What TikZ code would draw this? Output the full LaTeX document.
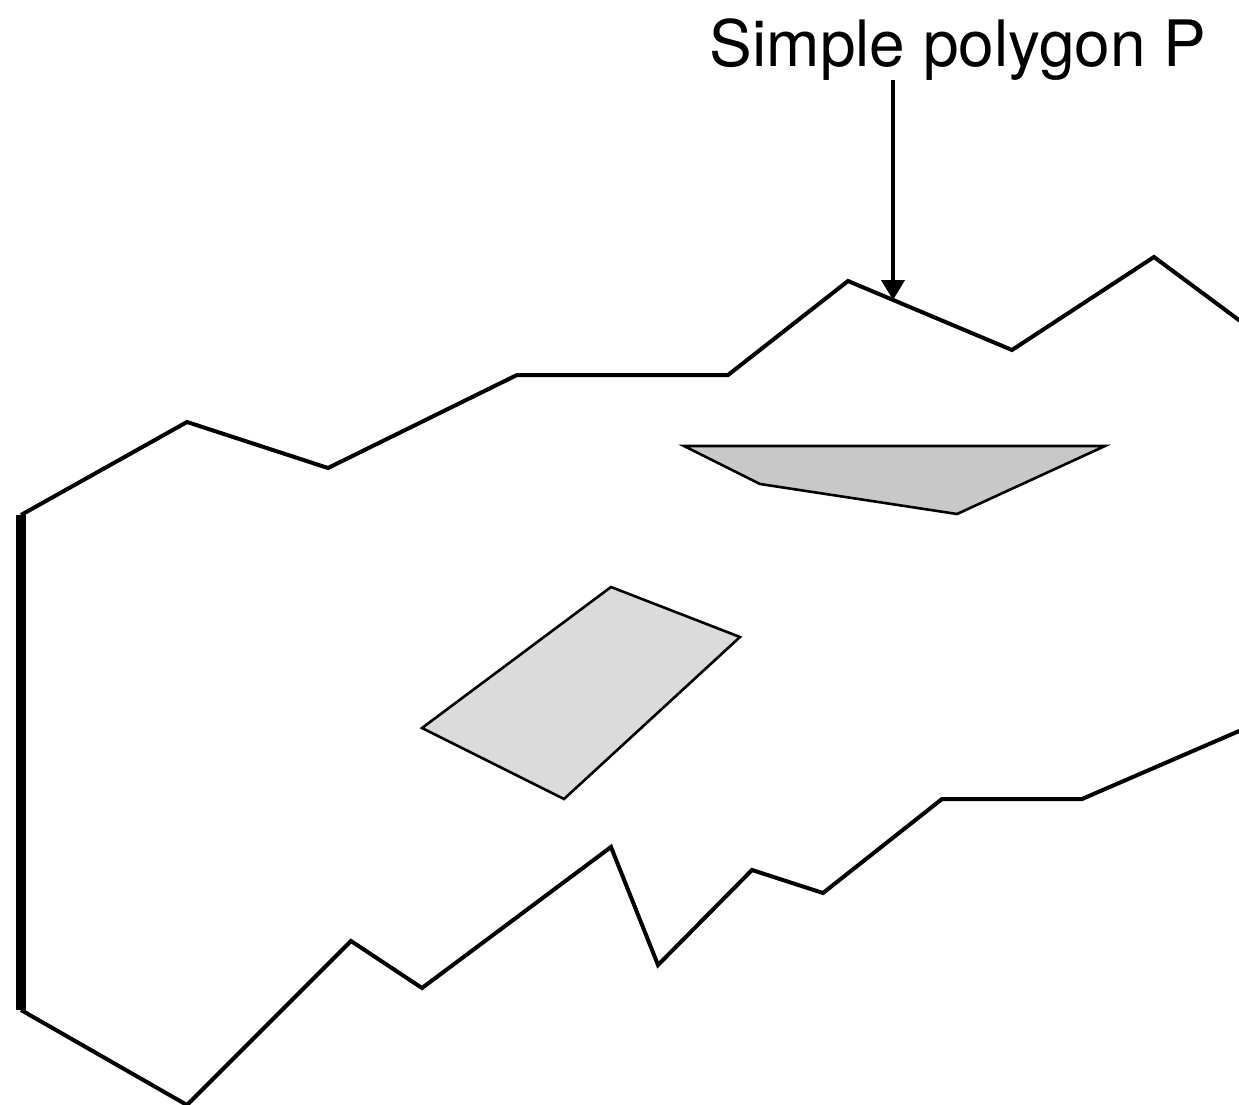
\documentclass[tikz,border=0pt]{standalone}
\usepackage{fontspec}
\setmainfont{TeX Gyre Heros}
\usetikzlibrary{arrows.meta}
\definecolor{holeA}{HTML}{C8C8C8}
\definecolor{holeB}{HTML}{DBDBDB}
\tikzset{
  outline/.style={line width=4pt, line join=miter},
  thickedge/.style={line width=10pt},
  hole/.style={line width=2.6pt, line join=miter, draw=black},
  pointer/.style={line width=4pt, -{Triangle[length=20pt,width=23pt]}},
  label/.style={font=\fontsize{64}{70}\selectfont, inner sep=0pt}
}
\begin{document}
\begin{tikzpicture}[x=1pt,y=-1pt]
\useasboundingbox (0,0) rectangle (1239,1105);
\begin{scope}
\clip (0,0) rectangle (1239,1105);
% outer boundary (top chain)
\draw[outline] (21,515) -- (187,422) -- (328,468) -- (517,375) -- (728,375) -- (848,281) -- (1012,350) -- (1154,257) -- (1290,358);
% outer boundary (bottom chain)
\draw[outline] (21,1010) -- (187,1105) -- (351,941) -- (422,988) -- (611,847) -- (658,965) -- (752,870) -- (823,893) -- (942,799) -- (1082,799) -- (1290,709);
% thick left edge
\draw[thickedge] (21,515) -- (21,1010);
\end{scope}
% holes
\filldraw[hole, fill=holeA] (684,446) -- (1105,446) -- (957,514) -- (760,484) -- cycle;
\filldraw[hole, fill=holeB] (611,587) -- (740,637) -- (564,799) -- (422,728) -- cycle;
% label and arrow
\node[label, anchor=base] (lbl) at (958,67) {Simple polygon P};
\coordinate (tip) at (893,300);
\draw[pointer] (893,80) -- (tip);
\end{tikzpicture}
\end{document}
